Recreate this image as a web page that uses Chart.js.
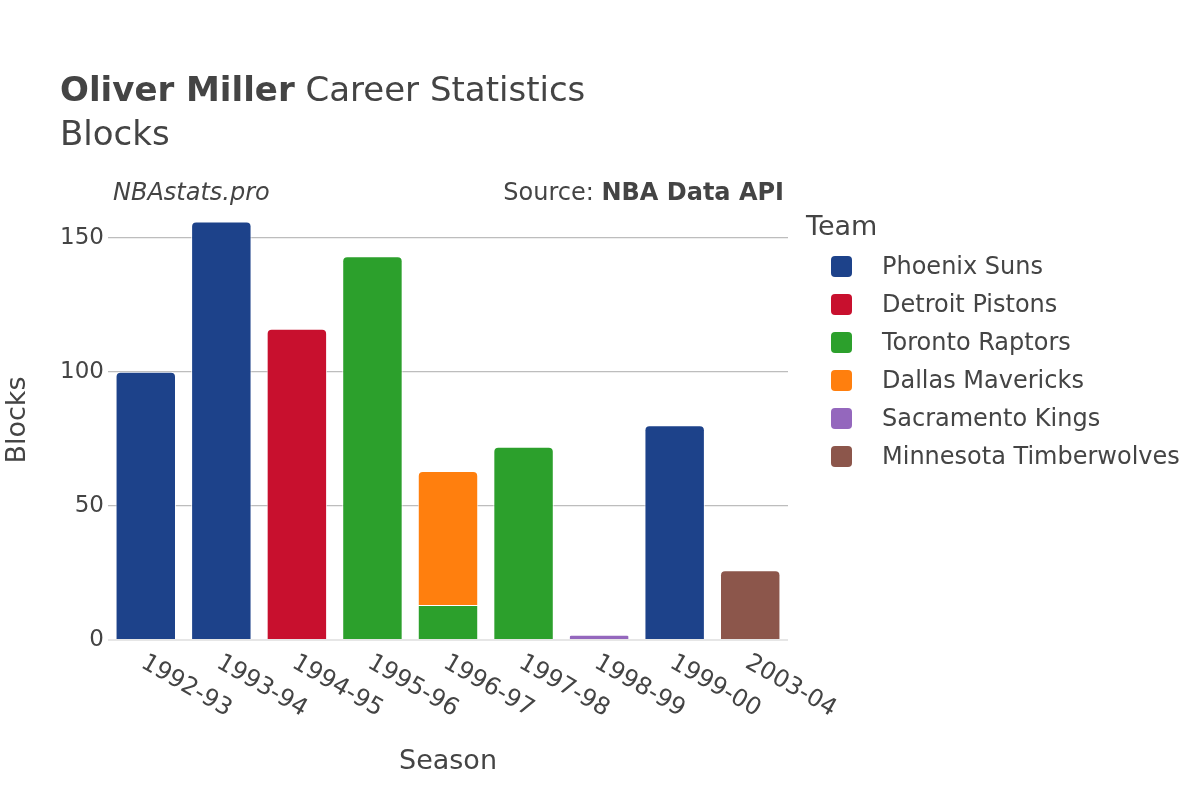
<!DOCTYPE html>
<html>
<head>
<meta charset="utf-8">
<script src="https://cdn.jsdelivr.net/npm/chart.js@4.4.1/dist/chart.umd.min.js"></script>
<style>
  html, body { margin: 0; padding: 0; background: #fff; }
  body { width: 1200px; height: 800px; position: relative; overflow: hidden;
         font-family: "DejaVu Sans", sans-serif; color: #444; }
  #wrap { position: absolute; left: 0; top: 0; width: 1200px; height: 800px; }
  .txt { position: absolute; white-space: nowrap; line-height: 1; }
  #title1 { left: 60px; top: 72px; font-size: 34px; }
  #title2 { left: 60px; top: 116px; font-size: 34px; }
  #brand { left: 113px; top: 180px; font-size: 24px; font-style: italic; }
  #source { right: 416px; top: 180px; font-size: 24px; }
  #legend { position: absolute; left: 806px; top: 210px; }
  #legend .head { font-size: 27px; line-height: 32px; margin-bottom: 5px; }
  #legend .item { height: 38px; display: flex; align-items: center; font-size: 24px; }
  #legend .sw { width: 21px; height: 21px; border-radius: 4px; margin-left: 25px; margin-right: 30px; }
</style>
</head>
<body>
<div id="wrap"><canvas id="c" width="1200" height="800"></canvas></div>
<div class="txt" id="title1"><b>Oliver Miller</b> Career Statistics</div>
<div class="txt" id="title2">Blocks</div>
<div class="txt" id="brand">NBAstats.pro</div>
<div class="txt" id="source">Source: <b>NBA Data API</b></div>
<div id="legend"></div>
<script>
var SEASONS = ['1992-93', '1993-94', '1994-95', '1995-96', '1996-97', '1997-98', '1998-99', '1999-00', '2003-04'];
var TEAMS = ['Phoenix Suns', 'Detroit Pistons', 'Toronto Raptors', 'Dallas Mavericks', 'Sacramento Kings', 'Minnesota Timberwolves'];
var COLORS = ['#1d428a', '#c8102e', '#2ca02c', '#ff7f0e', '#9467bd', '#8c564b'];

// blocks per season, one array per team (null = did not play there)
var PHX = [100, 156, null, null, null, null, null, 80, null];
var DET = [null, null, 116, null, null, null, null, null, null];
var TOR = [null, null, null, 143, 13, 72, null, null, null];
var DAL = [null, null, null, null, 50, null, null, null, null];
var SAC = [null, null, null, null, null, null, 2, null, null];
var MIN = [null, null, null, null, null, null, null, null, 26];
var SERIES = [PHX, DET, TOR, DAL, SAC, MIN];

var Y_TICKS = [0, 50, 100, 150];
var Y_MAX = 164;

var TEXT = '#444';
var FONT = '"DejaVu Sans", sans-serif';

// legend (html)
var leg = document.getElementById('legend');
var h = '<div class="head">Team</div>';
for (var i = 0; i < TEAMS.length; i++) {
  h += '<div class="item"><span class="sw" style="background:' + COLORS[i] + '"></span>' + TEAMS[i] + '</div>';
}
leg.innerHTML = h;

// rotated season labels, reading downwards to the right
var slantLabels = {
  id: 'slantLabels',
  afterDraw: function (chart) {
    var x = chart.scales.x;
    var ctx = chart.ctx;
    ctx.save();
    ctx.fillStyle = TEXT;
    ctx.font = '24px ' + FONT;
    ctx.textAlign = 'left';
    ctx.textBaseline = 'middle';
    for (var k = 0; k < SEASONS.length; k++) {
      var px = x.getPixelForValue(k);
      ctx.save();
      ctx.translate(px - 3, chart.chartArea.bottom + 21);
      ctx.rotate(30 * Math.PI / 180);
      ctx.fillText(SEASONS[k], 0, 0);
      ctx.restore();
    }
    ctx.restore();
  }
};

var datasets = [];
for (var d = 0; d < TEAMS.length; d++) {
  datasets.push({
    label: TEAMS[d],
    data: SERIES[d],
    backgroundColor: COLORS[d],
    borderColor: 'rgba(255,255,255,0.8)',
    borderWidth: 1,
    borderSkipped: 'start',
    borderRadius: 5,
    barPercentage: 0.8,
    categoryPercentage: 1
  });
}

new Chart(document.getElementById('c'), {
  type: 'bar',
  data: { labels: SEASONS, datasets: datasets },
  plugins: [slantLabels],
  options: {
    responsive: false,
    animation: false,
    events: [],
    layout: { padding: { left: 0, right: 412, top: 200, bottom: 0 } },
    plugins: { legend: { display: false }, tooltip: { enabled: false } },
    scales: {
      x: {
        stacked: true,
        grid: { display: false },
        border: { display: false },
        ticks: { display: false },
        title: {
          display: true, text: 'Season', color: TEXT,
          font: { family: FONT, size: 27 }, padding: { top: 0, bottom: 22 }
        },
        afterFit: function (s) { s.height = 160; }
      },
      y: {
        stacked: true,
        min: 0,
        max: Y_MAX,
        border: { display: false },
        grid: {
          drawTicks: false,
          color: function (c) { return c.tick && c.tick.value === 0 ? '#e6e6e6' : '#bdbdbd'; },
          lineWidth: function (c) { return c.tick && c.tick.value === 0 ? 2 : 1.2; }
        },
        ticks: {
          color: TEXT, padding: 4,
          font: { family: FONT, size: 23 }
        },
        afterBuildTicks: function (s) {
          s.ticks = Y_TICKS.map(function (v) { return { value: v }; });
        },
        title: {
          display: true, text: 'Blocks', color: TEXT,
          font: { family: FONT, size: 27 }, padding: { top: 2, bottom: 0 }
        },
        afterFit: function (s) { s.width = 108; }
      }
    }
  }
});
</script>
</body>
</html>
